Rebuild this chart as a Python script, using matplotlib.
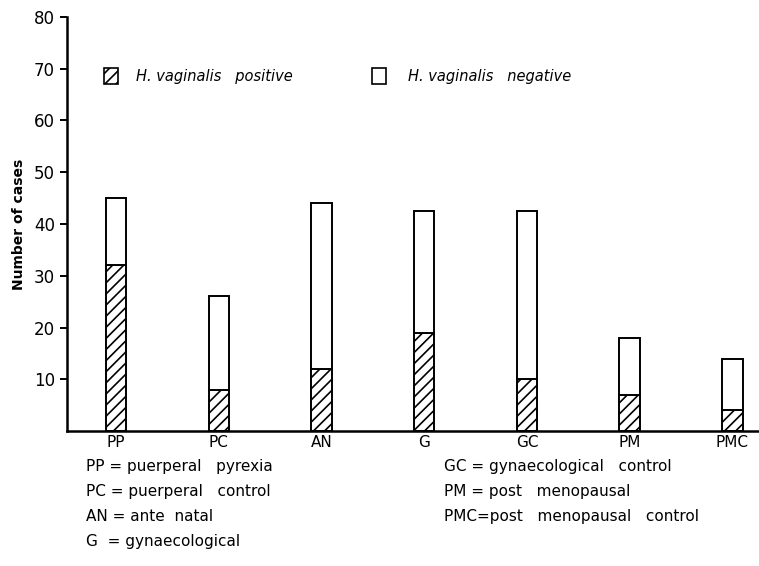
import matplotlib.pyplot as plt
from matplotlib.patches import Patch

groups = ["PP", "PC", "AN", "G", "GC", "PM", "PMC"]
positive = [32, 8, 12, 19, 10, 7, 4]
total = [45, 26, 44, 42.5, 42.5, 18, 14]
negative = [t - p for t, p in zip(total, positive)]

yticks = [10, 20, 30, 40, 50, 60, 70, 80]

key_left = ["PP = puerperal   pyrexia",
            "PC = puerperal   control",
            "AN = ante  natal",
            "G  = gynaecological"]
key_right = ["GC = gynaecological   control",
             "PM = post   menopausal",
             "PMC=post   menopausal   control"]

plt.rcParams["hatch.linewidth"] = 1.2

fig = plt.figure(figsize=(7.59, 5.66), dpi=100)
ax = fig.add_axes([0.088, 0.2385, 0.912, 0.7315])

x = list(range(len(groups)))
w = 0.2
ax.bar(x, positive, width=w, color="white", edgecolor="black", hatch="///", linewidth=1.4)
ax.bar(x, negative, width=w, bottom=positive, color="white", edgecolor="black", linewidth=1.4)

ax.set_xlim(-0.48, 6.26)
ax.set_ylim(0, 80)
ax.set_yticks(yticks)
ax.set_yticklabels([str(t) for t in yticks], fontsize=12)
ax.set_xticks(x)
ax.set_xticklabels(groups, fontsize=11)
ax.tick_params(axis="x", length=0, pad=3)
ax.tick_params(axis="y", direction="out", length=5, width=1.4)
for side in ["top", "right"]:
    ax.spines[side].set_visible(False)
ax.spines["left"].set_linewidth(1.8)
ax.spines["bottom"].set_linewidth(1.8)
ax.set_ylabel("Number of cases", fontsize=10, fontweight="bold", labelpad=6)

# two separate legend entries so each can sit where the original has it
pos_handle = Patch(facecolor="white", edgecolor="black", hatch="///", linewidth=1.2,
                   label="H. vaginalis   positive")
neg_handle = Patch(facecolor="white", edgecolor="black", linewidth=1.2,
                   label="H. vaginalis   negative")
leg1 = ax.legend(handles=[pos_handle], loc="center left", bbox_to_anchor=(0.045, 0.857),
                 frameon=False, handlelength=1.0, handleheight=1.3, handletextpad=1.2,
                 borderaxespad=0, prop={"style": "italic", "size": 10.5})
ax.add_artist(leg1)
ax.legend(handles=[neg_handle], loc="center left", bbox_to_anchor=(0.432, 0.857),
          frameon=False, handlelength=1.0, handleheight=1.3, handletextpad=1.5,
          borderaxespad=0, prop={"style": "italic", "size": 10.5})

for i, line in enumerate(key_left):
    fig.text(0.113, 1 - (467 + 24.7 * i) / 566, line, fontsize=11, va="center")
for i, line in enumerate(key_right):
    fig.text(0.585, 1 - (467 + 24.7 * i) / 566, line, fontsize=11, va="center")

fig.savefig("out.png", dpi=100)
